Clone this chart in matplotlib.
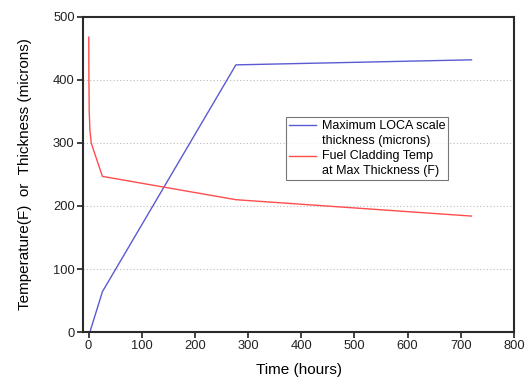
import numpy as np
import matplotlib
matplotlib.use("Agg")
import matplotlib.pyplot as plt

plt.rcParams['font.family'] = ['Liberation Sans', 'DejaVu Sans']

# Data
thick_time = [2.5, 26, 277, 720]
thick_vals = [0, 64, 424, 432]
temp_time = [0.3, 0.6, 1.2, 2.5, 5.0, 10, 26, 277, 720]
temp_vals = [468, 400, 350, 320, 300, 287, 247, 210, 184]
x_ticks = [0, 100, 200, 300, 400, 500, 600, 700, 800]
y_ticks = [0, 100, 200, 300, 400, 500]
labels = ["Maximum LOCA scale\nthickness (microns)",
          "Fuel Cladding Temp\nat Max Thickness (F)"]

fig = plt.figure(figsize=(5.26, 3.81), dpi=100)
ax = fig.add_axes([0.1578, 0.1286, 0.8194, 0.8268])

ax.plot(thick_time, thick_vals, color='#5a5ad2', lw=1.0, label=labels[0])
ax.plot(temp_time, temp_vals, color='#ff4d4d', lw=1.0, label=labels[1])

ax.set_xlim(-10.5, 800)
ax.set_ylim(0, 500)
ax.set_xticks(x_ticks)
ax.set_yticks(y_ticks)
ax.tick_params(direction='out', length=4, width=1.2, labelsize=9.3, pad=2,
               colors='#222222', top=False, right=False)
for s in ax.spines.values():
    s.set_linewidth(1.5)
    s.set_color('#2a2a2a')

for y in y_ticks[1:-1]:
    ax.axhline(y, color='#bbbbbb', lw=0.8, ls=(0, (1, 2)), zorder=0)

ax.set_xlabel('Time (hours)', fontsize=11, labelpad=8)
ax.set_ylabel('Temperature(F)  or  Thickness (microns)', fontsize=11, labelpad=15)

leg = ax.legend(loc='upper left', bbox_to_anchor=(0.47, 0.683), borderaxespad=0,
                fancybox=False, frameon=True, fontsize=9, handlelength=2.2,
                handletextpad=0.45, borderpad=0.25, labelspacing=0.3)
leg.get_frame().set_edgecolor('#555555')
leg.get_frame().set_linewidth(0.8)
for t in leg.get_texts():
    t.set_linespacing(1.3)
for ln in leg.get_lines():
    y = np.asarray(ln.get_ydata(), dtype=float)
    ln.set_ydata(y + 9 * 0.65)

fig.savefig('out.png', dpi=100)
